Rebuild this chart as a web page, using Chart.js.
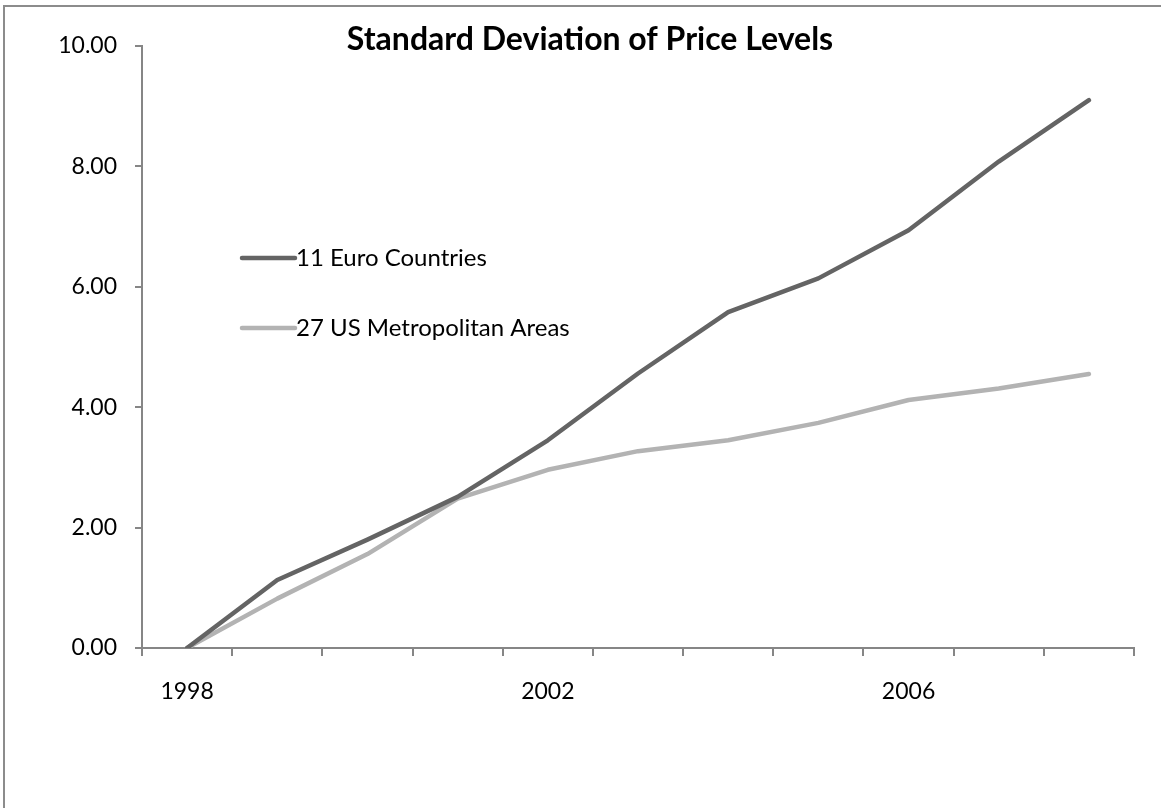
<!DOCTYPE html>
<html>
<head>
<meta charset="utf-8">
<script src="https://cdn.jsdelivr.net/npm/chart.js@4"></script>
<style>
  body { margin: 0; background: #fff; }
  canvas { display: block; }
</style>
</head>
<body>
<canvas id="chart" width="1161" height="808"></canvas>
<script>
// Chart data
const years = ["1998", "1999", "2000", "2001", "2002", "2003", "2004", "2005", "2006", "2007", "2008"];
const xTickLabels = ["1998", "", "", "", "2002", "", "", "", "2006", "", ""];
const euroCountries = [0, 1.13, 1.80, 2.51, 3.45, 4.56, 5.58, 6.14, 6.94, 8.08, 9.10];
const usMetroAreas = [0, 0.82, 1.56, 2.48, 2.96, 3.27, 3.45, 3.74, 4.12, 4.31, 4.55];
const seriesNames = ["11 Euro Countries", "27 US Metropolitan Areas"];
const chartTitle = "Standard Deviation of Price Levels";

const fontFamily = "Lato, 'Open Sans', sans-serif";
const axisColor = "#868686";

// Draws the outer frame, the title and the in-plot legend
const decorPlugin = {
  id: "decor",
  beforeDraw(chart) {
    const ctx = chart.ctx;
    ctx.save();
    ctx.fillStyle = "#fff";
    ctx.fillRect(0, 0, chart.width, chart.height);
    ctx.strokeStyle = "#8c8c8c";
    ctx.lineWidth = 2;
    ctx.strokeRect(4, 6, chart.width + 20, chart.height + 20);
    ctx.restore();
  },
  afterDraw(chart) {
    const ctx = chart.ctx;
    const area = chart.chartArea;
    ctx.save();
    // title
    ctx.fillStyle = "#000";
    ctx.font = "bold 32px " + fontFamily;
    ctx.textAlign = "center";
    ctx.textBaseline = "middle";
    ctx.fillText(chartTitle, 590, 40);
    // legend
    ctx.font = "24px " + fontFamily;
    ctx.textAlign = "left";
    chart.data.datasets.forEach((ds, i) => {
      const y = 258 + i * 70;
      const x0 = area.left + 100;
      ctx.strokeStyle = ds.borderColor;
      ctx.lineWidth = ds.borderWidth;
      ctx.lineCap = "round";
      ctx.beginPath();
      ctx.moveTo(x0, y);
      ctx.lineTo(x0 + 53, y);
      ctx.stroke();
      ctx.fillStyle = "#000";
      ctx.fillText(ds.label, x0 + 54, y);
    });
    ctx.restore();
  }
};

const chart = new Chart(document.getElementById("chart"), {
  type: "line",
  data: {
    labels: years,
    datasets: [
      {
        label: seriesNames[0],
        data: euroCountries,
        borderColor: "#646464",
        borderWidth: 4.5,
        pointRadius: 0,
        borderCapStyle: "round",
        borderJoinStyle: "round"
      },
      {
        label: seriesNames[1],
        data: usMetroAreas,
        borderColor: "#b3b3b3",
        borderWidth: 4.5,
        pointRadius: 0,
        borderCapStyle: "round",
        borderJoinStyle: "round"
      }
    ]
  },
  options: {
    responsive: false,
    animation: false,
    devicePixelRatio: 1,
    layout: { padding: { left: 0, right: 27, top: 46, bottom: 0 } },
    plugins: {
      legend: { display: false },
      title: { display: false },
      tooltip: { enabled: false }
    },
    scales: {
      x: {
        type: "category",
        offset: true,
        afterFit: (scale) => { scale.height = 160; },
        grid: {
          offset: true,
          drawOnChartArea: false,
          tickLength: 8,
          color: axisColor,
          lineWidth: 2
        },
        border: { color: axisColor, width: 2 },
        ticks: {
          autoSkip: false,
          maxRotation: 0,
          padding: 22,
          color: "#000",
          font: { family: fontFamily, size: 23 },
          callback: (value, index) => xTickLabels[index]
        }
      },
      y: {
        min: 0,
        max: 10,
        afterFit: (scale) => { scale.width = 142; },
        grid: {
          drawOnChartArea: false,
          tickLength: 7,
          color: axisColor,
          lineWidth: 2
        },
        border: { color: axisColor, width: 2 },
        ticks: {
          stepSize: 2,
          padding: 18,
          color: "#000",
          font: { family: fontFamily, size: 23 },
          callback: (value) => value.toFixed(2)
        }
      }
    }
  },
  plugins: [decorPlugin]
});
</script>
</body>
</html>
